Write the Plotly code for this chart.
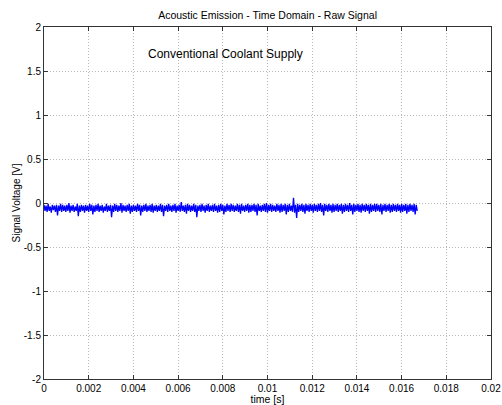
import plotly.graph_objects as go

# sample interval of the recorded signal [s]
sample_dt = 0.0167 / 359

# signal voltage samples [V]
signal_v = [
    -0.02,-0.09,-0.03,-0.10,-0.01,-0.09,-0.04,-0.11,-0.02,-0.08,-0.03,-0.10,-0.02,-0.14,-0.03,-0.09,-0.01,-0.10,-0.02,-0.09,
    -0.03,-0.10,-0.02,-0.09,0.00,-0.11,-0.03,-0.09,-0.02,-0.10,-0.04,-0.09,-0.01,-0.15,-0.03,-0.10,-0.02,-0.09,-0.03,-0.11,
    -0.02,-0.09,-0.03,-0.10,-0.01,-0.09,-0.02,-0.13,-0.03,-0.10,-0.02,-0.09,-0.01,-0.10,-0.03,-0.09,-0.02,-0.11,-0.04,-0.09,
    -0.01,-0.10,-0.03,-0.09,-0.02,-0.16,-0.03,-0.10,-0.01,-0.09,-0.02,-0.10,-0.03,-0.09,0.00,-0.11,-0.02,-0.09,-0.03,-0.10,
    -0.02,-0.09,-0.01,-0.12,-0.03,-0.10,-0.02,-0.09,-0.03,-0.10,-0.01,-0.09,-0.02,-0.14,-0.03,-0.10,-0.02,-0.09,-0.01,-0.10,
    -0.03,-0.09,-0.02,-0.10,-0.01,-0.11,-0.03,-0.09,-0.02,-0.10,-0.03,-0.09,-0.01,-0.10,-0.02,-0.15,-0.03,-0.09,-0.02,-0.10,
    -0.01,-0.09,-0.03,-0.10,-0.02,-0.09,-0.01,-0.11,-0.03,-0.09,-0.02,-0.10,0.01,-0.09,-0.03,-0.10,-0.02,-0.12,-0.01,-0.09,
    -0.02,-0.10,-0.03,-0.09,-0.01,-0.10,-0.02,-0.16,-0.03,-0.09,-0.02,-0.10,-0.01,-0.09,-0.03,-0.11,-0.02,-0.09,-0.01,-0.10,
    -0.03,-0.09,-0.02,-0.10,-0.01,-0.09,-0.03,-0.11,-0.02,-0.10,-0.01,-0.09,-0.02,-0.13,-0.03,-0.10,-0.01,-0.09,-0.02,-0.10,
    -0.01,-0.09,-0.02,-0.10,-0.03,-0.09,-0.01,-0.10,-0.02,-0.12,-0.01,-0.09,-0.03,-0.10,-0.02,-0.09,-0.01,-0.11,-0.02,-0.10,
    -0.02,-0.09,-0.01,-0.10,-0.02,-0.14,-0.01,-0.09,-0.03,-0.10,-0.02,-0.09,-0.01,-0.10,0.00,-0.11,-0.02,-0.09,-0.01,-0.10,
    -0.02,-0.09,-0.03,-0.10,-0.01,-0.09,-0.02,-0.11,-0.01,-0.10,-0.02,-0.09,-0.01,-0.13,-0.02,-0.10,-0.01,-0.09,-0.03,-0.10,
    0.06,-0.11,-0.02,-0.17,-0.01,-0.10,-0.02,-0.09,-0.01,-0.10,-0.02,-0.12,-0.01,-0.09,-0.02,-0.10,-0.01,-0.09,-0.02,-0.11,
    -0.01,-0.09,-0.02,-0.10,-0.01,-0.09,0.00,-0.10,-0.02,-0.14,-0.01,-0.09,-0.02,-0.10,-0.01,-0.09,-0.02,-0.11,-0.01,-0.10,
    -0.02,-0.09,-0.01,-0.10,-0.02,-0.09,-0.01,-0.12,-0.02,-0.10,-0.01,-0.09,-0.02,-0.10,0.00,-0.09,-0.02,-0.13,-0.01,-0.10,
    -0.02,-0.09,-0.01,-0.10,-0.02,-0.11,-0.01,-0.09,-0.02,-0.10,-0.01,-0.09,-0.02,-0.12,-0.01,-0.10,-0.02,-0.09,-0.01,-0.10,
    -0.01,-0.09,-0.02,-0.10,-0.01,-0.13,-0.02,-0.09,-0.01,-0.10,-0.02,-0.09,-0.01,-0.11,-0.02,-0.10,-0.01,-0.09,-0.02,-0.10,
    -0.01,-0.09,-0.02,-0.11,-0.01,-0.10,-0.02,-0.09,-0.01,-0.12,-0.02,-0.10,-0.01,-0.09,-0.02,-0.10,-0.01,-0.13,-0.02,-0.09,
]
time_s = [i * sample_dt for i in range(len(signal_v))]

x_ticks = [0, 0.002, 0.004, 0.006, 0.008, 0.01, 0.012, 0.014, 0.016, 0.018, 0.02]
x_tick_labels = ["0", "0.002", "0.004", "0.006", "0.008", "0.01", "0.012", "0.014", "0.016", "0.018", "0.02"]
y_ticks = [-2, -1.5, -1, -0.5, 0, 0.5, 1, 1.5, 2]
y_tick_labels = ["-2", "-1.5", "-1", "-0.5", "0", "0.5", "1", "1.5", "2"]

font = "Liberation Sans, Arial, sans-serif"

fig = go.Figure()
fig.add_trace(go.Scatter(x=time_s, y=signal_v, mode="lines",
                         line=dict(color="#0000ff", width=1.3), showlegend=False))

axis_common = dict(showline=True, linecolor="#333333", linewidth=1, mirror="ticks",
                   ticks="inside", ticklen=4, tickcolor="#333333",
                   showgrid=True, gridcolor="#b8b8b8", griddash="1px,2px", gridwidth=1,
                   zeroline=False, automargin=False,
                   tickfont=dict(family=font, size=10, color="black"))

fig.update_layout(
    width=502, height=405,
    margin=dict(l=44, r=11, t=27, b=26),
    paper_bgcolor="white", plot_bgcolor="white",
    title=dict(text="Acoustic Emission - Time Domain - Raw Signal", x=0.533, xanchor="center",
               y=0.963, yanchor="middle", font=dict(family=font, size=10.5, color="black")),
    xaxis=dict(range=[0, 0.02], tickvals=x_ticks, ticktext=x_tick_labels,
               title=dict(text="time [s]", standoff=0, font=dict(family=font, size=10.5, color="black")),
               **axis_common),
    yaxis=dict(range=[-2, 2], tickvals=y_ticks, ticktext=y_tick_labels,
               title=dict(text="Signal Voltage [V]", standoff=1, font=dict(family=font, size=10, color="black")),
               **axis_common),
    annotations=[dict(text="Conventional Coolant Supply", x=0.00814, y=1.69, xref="x", yref="y",
                      showarrow=False, xanchor="center", yanchor="middle",
                      font=dict(family=font, size=12, color="black"))],
)

fig.write_html("out.html")
